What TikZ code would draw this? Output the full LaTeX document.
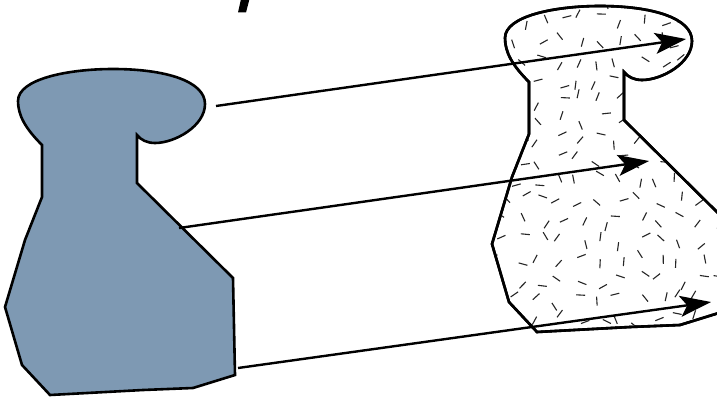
\documentclass[tikz,border=0pt]{standalone}
\usepackage{xcolor}
\definecolor{vaseblue}{HTML}{7E99B3}
\definecolor{fleckgray}{HTML}{262626}
\usepackage{tikz}
\usetikzlibrary{arrows.meta,calc}
\newcommand{\vasepath}{(42,145) .. controls (25,128) and (18,115) .. (18,101)
      .. controls (18,79) and (68,69) .. (113,69)
      .. controls (165,69) and (205,81) .. (205,104)
      .. controls (205,126) and (175,143) .. (155,143)
      .. controls (147,143) and (141,140) .. (137,135)
      -- (137,183) -- (233,278) -- (235,375) -- (193,388) -- (143,390)
      -- (50,395) -- (22,365) -- (5,307) -- (25,240) -- (42,197) -- cycle}

\begin{document}
\begin{tikzpicture}[x=1pt, y=-1pt,
                   outline/.style={draw=black, line width=2.6pt, line join=miter},
                   source/.style={outline, fill=vaseblue},
                   image/.style={outline, fill=white},
                   fleck/.style={draw=fleckgray, line width=1.1pt},
                   map/.style={line width=2.4pt, -{Stealth[length=31pt, width=21pt, inset=7pt]}}]
    \useasboundingbox (0,0) rectangle (717,396);
    \clip (0,0) rectangle (717,396);
    % cut-off glyph at the top edge
    \fill (241,-1) -- (249.5,-1) -- (246,12.5) -- (238,12.5) -- cycle;
    % left shape
    \path[source] \vasepath;
    % right shape with its speckled texture
    \path[image, shift={(487,-63)}] \vasepath;
    \begin{scope}
        \clip[shift={(487,-63)}] \vasepath;
        \pgfmathsetseed{4123}
        \foreach \i in {480,500,...,720} {
            \foreach \j in {0,20,...,340} {
                \pgfmathsetmacro\dx{rand*7}
                \pgfmathsetmacro\dy{rand*7}
                \pgfmathsetmacro\ang{rnd*180}
                \draw[fleck] ($(\i,\j)+(\dx,\dy)$) ++(\ang:4.5) -- ++(\ang+180:9);
            }
        }
    \end{scope}
    \path[image, fill=none, shift={(487,-63)}] \vasepath;
    % correspondence arrows
    \coordinate (top s)  at (216,106);
    \coordinate (top t)  at (686,39);
    \coordinate (mid s)  at (179,228);
    \coordinate (mid t)  at (649,161);
    \coordinate (low s)  at (238,368);
    \coordinate (low t)  at (711,302);
    \draw[map] (top s) -- (top t);
    \draw[map] (mid s) -- (mid t);
    \draw[map] (low s) -- (low t);
\end{tikzpicture}
\end{document}
